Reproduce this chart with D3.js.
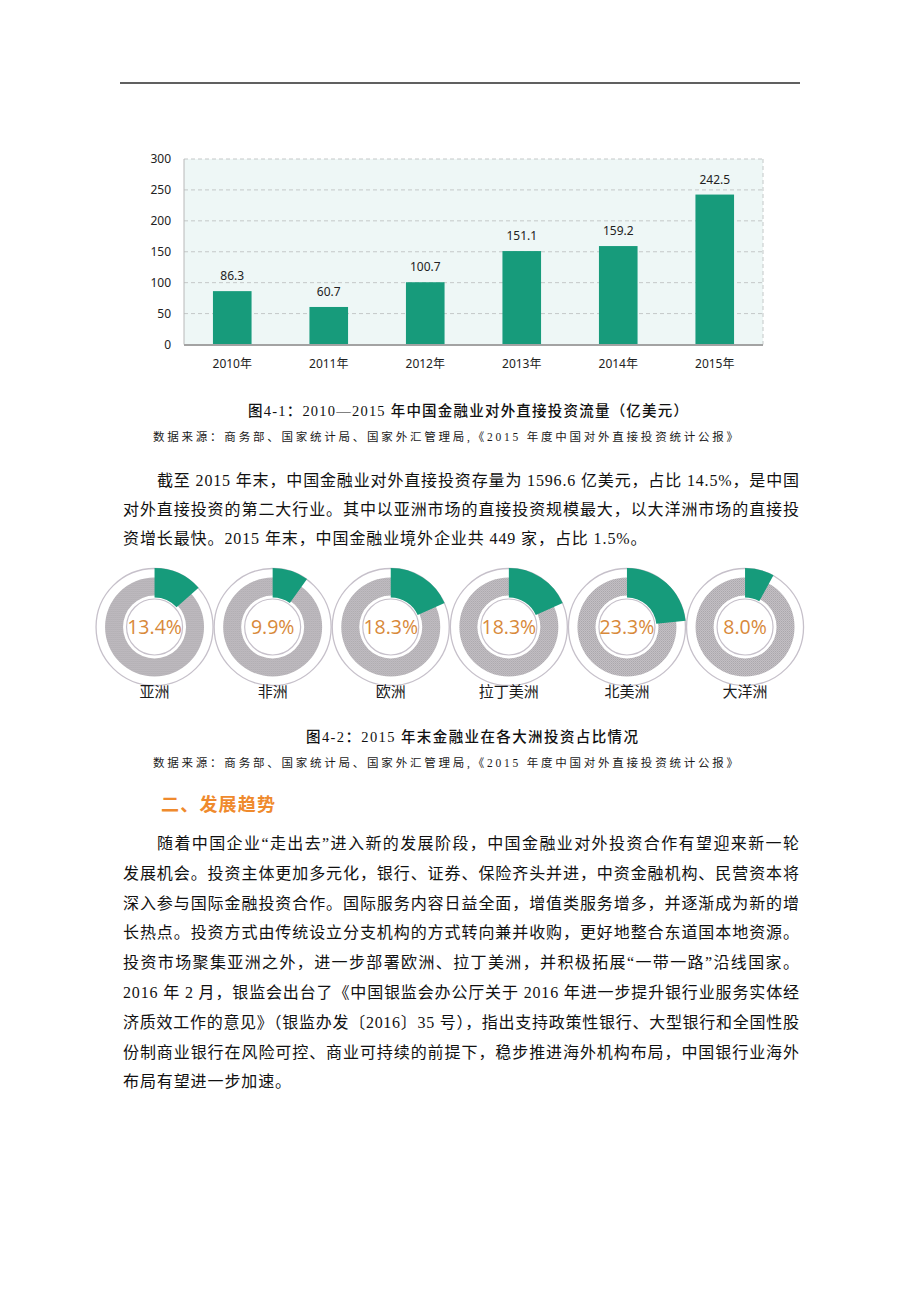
<!DOCTYPE html>
<html>
<head>
<meta charset="utf-8">
<script src="https://cdn.jsdelivr.net/npm/d3@7"></script>
<style>
  html, body { margin: 0; padding: 0; background: #fff; }
  svg { display: block; }
</style>
</head>
<body>
<svg id="page" width="920" height="1302"></svg>
<script>
// ---------- data ----------
const years = ["2010年", "2011年", "2012年", "2013年", "2014年", "2015年"];
const flows = [86.3, 60.7, 100.7, 151.1, 159.2, 242.5];
const yTicks = [0, 50, 100, 150, 200, 250, 300];

const regions = ["亚洲", "非洲", "欧洲", "拉丁美洲", "北美洲", "大洋洲"];
const shares = [13.4, 9.9, 18.3, 18.3, 23.3, 8.0];

const caption1 = "图4-1：2010—2015 年中国金融业对外直接投资流量（亿美元）";
const caption2 = "图4-2：2015 年末金融业在各大洲投资占比情况";
const sourceNote = "数据来源：商务部、国家统计局、国家外汇管理局,《2015 年度中国对外直接投资统计公报》";
const heading = "二、发展趋势";
const para1 = [
  "截至 2015 年末，中国金融业对外直接投资存量为 1596.6 亿美元，占比 14.5%，是中国",
  "对外直接投资的第二大行业。其中以亚洲市场的直接投资规模最大，以大洋洲市场的直接投",
  "资增长最快。2015 年末，中国金融业境外企业共 449 家，占比 1.5%。"
];
const para2 = [
  "随着中国企业“走出去”进入新的发展阶段，中国金融业对外投资合作有望迎来新一轮",
  "发展机会。投资主体更加多元化，银行、证券、保险齐头并进，中资金融机构、民营资本将",
  "深入参与国际金融投资合作。国际服务内容日益全面，增值类服务增多，并逐渐成为新的增",
  "长热点。投资方式由传统设立分支机构的方式转向兼并收购，更好地整合东道国本地资源。",
  "投资市场聚集亚洲之外，进一步部署欧洲、拉丁美洲，并积极拓展“一带一路”沿线国家。",
  "2016 年 2 月，银监会出台了《中国银监会办公厅关于 2016 年进一步提升银行业服务实体经",
  "济质效工作的意见》（银监办发〔2016〕35 号），指出支持政策性银行、大型银行和全国性股",
  "份制商业银行在风险可控、商业可持续的前提下，稳步推进海外机构布局，中国银行业海外",
  "布局有望进一步加速。"
];

// ---------- page ----------
const svg = d3.select("#page");
const SERIF = "'Liberation Serif', 'Noto Sans CJK SC', serif";
const CJK = "'Noto Sans CJK SC', sans-serif";
const SANS = "'Noto Sans', 'Noto Sans CJK SC', sans-serif";

// dotted texture for the grey rings
const defs = svg.append("defs");
const pat = defs.append("pattern").attr("id", "dots").attr("patternUnits", "userSpaceOnUse")
  .attr("width", 2).attr("height", 2);
pat.append("rect").attr("width", 2).attr("height", 2).attr("fill", "#c4c0c4");
pat.append("rect").attr("width", 1).attr("height", 1).attr("fill", "#a9a6ab");
pat.append("rect").attr("x", 1).attr("y", 1).attr("width", 1).attr("height", 1).attr("fill", "#b4b0b6");

// header rule
svg.append("line").attr("x1", 120).attr("x2", 800).attr("y1", 83).attr("y2", 83)
  .attr("stroke", "#2b2b2b").attr("stroke-width", 1.6);

// ---------- bar chart ----------
const plot = { left: 184, right: 763, top: 159, bottom: 344.5 };
const x = d3.scaleBand().domain(years).range([plot.left, plot.right])
  .paddingInner(0.6).paddingOuter(0.3);
const y = d3.scaleLinear().domain([0, 300]).range([plot.bottom, plot.top]);

const chart = svg.append("g");
chart.append("rect").attr("x", plot.left).attr("y", plot.top)
  .attr("width", plot.right - plot.left).attr("height", plot.bottom - plot.top)
  .attr("fill", "#eef7f6");

// grid
chart.append("g").selectAll("line").data(yTicks.filter(d => d > 0)).join("line")
  .attr("x1", plot.left).attr("x2", plot.right)
  .attr("y1", d => y(d)).attr("y2", d => y(d))
  .attr("stroke", "#c4c8c8").attr("stroke-width", 1).attr("stroke-dasharray", "4,3");
chart.append("line").attr("x1", plot.right).attr("x2", plot.right)
  .attr("y1", plot.top).attr("y2", plot.bottom)
  .attr("stroke", "#c4c8c8").attr("stroke-dasharray", "4,3");
chart.append("line").attr("x1", plot.left).attr("x2", plot.left)
  .attr("y1", plot.top).attr("y2", plot.bottom)
  .attr("stroke", "#b8b8b8").attr("stroke-width", 1);

// bars
chart.append("g").selectAll("rect").data(years).join("rect")
  .attr("x", d => x(d)).attr("width", x.bandwidth())
  .attr("y", (d, i) => y(flows[i])).attr("height", (d, i) => y(0) - y(flows[i]))
  .attr("fill", "#179b7b");

// value labels
chart.append("g").selectAll("text").data(years).join("text")
  .attr("x", d => x(d) + x.bandwidth() / 2)
  .attr("y", (d, i) => y(flows[i]) - 11)
  .attr("text-anchor", "middle")
  .attr("font-family", SANS).attr("font-size", 12).attr("fill", "#222")
  .text((d, i) => d3.format(".1f")(flows[i]));

// bottom axis line
chart.append("line").attr("x1", plot.left).attr("x2", plot.right)
  .attr("y1", plot.bottom + 0.5).attr("y2", plot.bottom + 0.5)
  .attr("stroke", "#a3a3a3").attr("stroke-width", 2);

// y axis labels
const yAxis = chart.append("g").attr("transform", `translate(${plot.left},0)`)
  .call(d3.axisLeft(y).tickValues(yTicks).tickSize(0).tickPadding(13));
yAxis.select(".domain").remove();
yAxis.selectAll("text").attr("font-family", SANS).attr("font-size", 12).attr("fill", "#222");

// x axis labels
const xAxis = chart.append("g").attr("transform", `translate(0,${plot.bottom})`)
  .call(d3.axisBottom(x).tickSize(0).tickPadding(15));
xAxis.select(".domain").remove();
xAxis.selectAll("text").attr("font-family", SANS).attr("font-size", 12).attr("fill", "#222");

// ---------- captions ----------
function caption(txt, x0, x1, cy) {
  svg.append("text").attr("x", x0).attr("y", cy + 5)
    .attr("font-family", SERIF).attr("font-size", 14.5).attr("font-weight", 500)
    .attr("fill", "#111")
    .attr("textLength", x1 - x0).attr("lengthAdjust", "spacing")
    .text(txt);
}
function source(cy) {
  svg.append("text").attr("x", 153).attr("y", cy + 4)
    .attr("font-family", SERIF).attr("font-size", 11.5).attr("fill", "#1a1a1a")
    .attr("textLength", 738 - 153).attr("lengthAdjust", "spacing")
    .text(sourceNote);
}
caption(caption1, 248, 688, 411);
source(437);

// ---------- paragraph helper ----------
function paragraph(lines, cy0, step) {
  lines.forEach((ln, i) => {
    const indent = i === 0 ? 157 : 123;
    const last = i === lines.length - 1;
    const t = svg.append("text").attr("x", indent).attr("y", cy0 + i * step + 6)
      .attr("font-family", SERIF).attr("font-size", 16).attr("fill", "#111")
      .text(ln);
    if (!last) t.attr("textLength", 799 - indent).attr("lengthAdjust", "spacing");
    else t.attr("letter-spacing", 0.9);
  });
}
paragraph(para1, 480, 29.2);

// ---------- donuts ----------
const dx = d3.scaleBand().domain(regions).range([95.5, 804.1]);
const cyD = 627;
const arc = d3.arc().innerRadius(29.5).outerRadius(59).startAngle(0);
const ring = d3.arc().innerRadius(31.5).outerRadius(49.5).startAngle(0).endAngle(2 * Math.PI);

const donuts = svg.append("g").selectAll("g").data(regions).join("g")
  .attr("transform", d => `translate(${dx(d) + dx.bandwidth() / 2},${cyD})`);
donuts.append("circle").attr("r", 58.5).attr("fill", "none")
  .attr("stroke", "#c6c0ca").attr("stroke-width", 1.3);
donuts.append("path").attr("d", ring()).attr("fill", "url(#dots)");
donuts.append("circle").attr("r", 28).attr("fill", "none")
  .attr("stroke", "#c6c0ca").attr("stroke-width", 1.2);
donuts.append("path")
  .attr("d", (d, i) => arc({ endAngle: shares[i] / 100 * 2 * Math.PI }))
  .attr("fill", "#169b7b");
donuts.append("text").attr("y", 7).attr("text-anchor", "middle")
  .attr("font-family", "'Open Sans', sans-serif").attr("font-size", 19.5)
  .attr("fill", "#d8893a")
  .text((d, i) => d3.format(".1f")(shares[i]) + "%");
donuts.append("text").attr("y", 70).attr("text-anchor", "middle")
  .attr("font-family", CJK).attr("font-size", 15).attr("fill", "#1a1a1a")
  .text(d => d);

caption(caption2, 306, 638, 737);
source(763);

// heading
svg.append("text").attr("x", 161).attr("y", 804 + 6.5)
  .attr("font-family", CJK).attr("font-size", 18).attr("font-weight", 700)
  .attr("fill", "#ef8a2d")
  .attr("textLength", 114).attr("lengthAdjust", "spacing")
  .text(heading);

paragraph(para2, 843, 29.8);
</script>
</body>
</html>
